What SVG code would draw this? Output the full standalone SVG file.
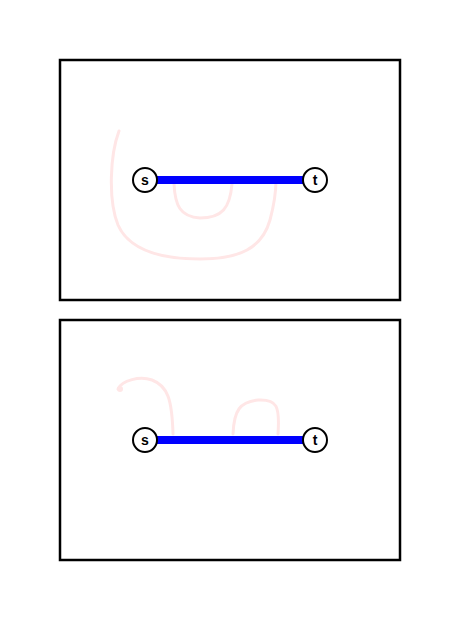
<svg xmlns="http://www.w3.org/2000/svg" width="460" height="620" viewBox="0 0 460 620">
<style>
.panel{fill:#fff;stroke:#000;stroke-width:2.5}
.trail{fill:none;stroke:#ffe6e6;stroke-width:3;stroke-linecap:round}
.edge{stroke:#0000ff;stroke-width:8}
.node circle{fill:#fff;stroke:#000;stroke-width:2}
.node text{font-family:"Liberation Sans",Arial,sans-serif;font-size:14px;font-weight:bold;text-anchor:middle;dominant-baseline:central}
</style>
<rect width="460" height="620" fill="#fff"/>
<rect class="panel" x="60" y="60" width="340" height="240"/>
<rect class="panel" x="60" y="320" width="340" height="240"/>
<g id="trails">
<path class="trail" d="M119,131 C110,155 108,200 118,225 C130,252 165,259 200,259 C240,259 262,248 270,220 C274,205 276,190 276,180"/>
<path class="trail" d="M174,184 C175,205 180,217 200,218 C222,218 230,208 232,184"/>
<path class="trail" d="M118,389 C122,380 140,376 152,380 C168,386 172,400 173,434"/>
<path class="trail" d="M233,434 C234,410 240,402 258,400 C277,399 280,406 278,434"/>
<circle cx="120" cy="389" r="3" fill="#ffe6e6"/>
</g>
<g id="connectors">
<line class="edge" x1="157" y1="180" x2="303" y2="180"/>
<line class="edge" x1="157" y1="440" x2="303" y2="440"/>
</g>
<g id="s1" class="node"><circle cx="145" cy="180" r="12"/><text x="145" y="180">s</text></g>
<g id="t1" class="node"><circle cx="315" cy="180" r="12"/><text x="315" y="180">t</text></g>
<g id="s2" class="node"><circle cx="145" cy="440" r="12"/><text x="145" y="440">s</text></g>
<g id="t2" class="node"><circle cx="315" cy="440" r="12"/><text x="315" y="440">t</text></g>
</svg>
